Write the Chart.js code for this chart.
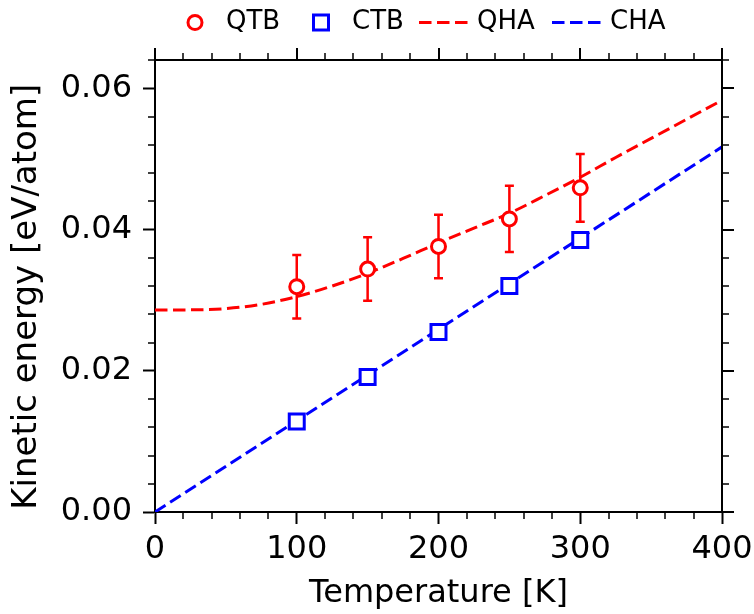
<!DOCTYPE html>
<html>
<head>
<meta charset="utf-8">
<script src="https://cdn.jsdelivr.net/npm/chart.js@4.4.1/dist/chart.umd.min.js"></script>
<style>
  html, body { margin: 0; padding: 0; background: #fff; }
</style>
</head>
<body>
<canvas id="myChart" width="754" height="614"></canvas>
<script>
// temperatures [K] and kinetic energies [eV/atom]
const qtbTemps = [100, 150, 200, 250, 300];
const qtbEnergy = [0.0319, 0.0344, 0.0376, 0.0415, 0.0459];
const qtbError = [0.0045, 0.0045, 0.0045, 0.0047, 0.0048];

const ctbTemps = [100, 150, 200, 250, 300];
const ctbEnergy = [0.0128, 0.0191, 0.0255, 0.0320, 0.0385];

const qhaTemps = [0, 25, 50, 75, 100, 125, 150, 175, 200, 225, 250, 275, 300, 325, 350, 375, 400];
const qhaEnergy = [0.0286, 0.02862, 0.0288, 0.0294, 0.0305, 0.0320, 0.0338, 0.0359, 0.0381,
  0.0402, 0.0423, 0.0448, 0.0474, 0.0502, 0.0529, 0.0556, 0.0583];

const chaTemps = [0, 400];
const chaEnergy = [0, 0.0517];

const xTicks = [0, 100, 200, 300, 400];
const yTicks = [0, 0.02, 0.04, 0.06];
const seriesLabels = ["QTB", "CTB", "QHA", "CHA"];

const FONT = "'DejaVu Sans', sans-serif";
const RED = "#ff0000";
const BLUE = "#0000ff";
const DASH = [12.5, 5.5];

const toPoints = (xs, ys) => xs.map((t, i) => ({ x: t, y: ys[i] }));

// minor tick positions (5 per major interval)
const xMinor = [];
for (let i = 0; i < xTicks.length - 1; i++) {
  const step = (xTicks[i + 1] - xTicks[i]) / 5;
  for (let k = 1; k < 5; k++) xMinor.push(xTicks[i] + k * step);
}
const yMinor = [];
for (let i = 0; i < yTicks.length - 1; i++) {
  const step = (yTicks[i + 1] - yTicks[i]) / 5;
  for (let k = 1; k < 5; k++) yMinor.push(yTicks[i] + k * step);
}
yMinor.push(0.064);

// error bars drawn after the lines but under the markers
const errorBars = {
  id: "errorBars",
  afterDatasetDraw(chart, args) {
    if (args.index !== 2) return;
    const { ctx, scales: { x, y } } = chart;
    ctx.save();
    ctx.strokeStyle = RED;
    ctx.lineWidth = 2.5;
    qtbTemps.forEach((t, i) => {
      const px = x.getPixelForValue(t);
      const lo = y.getPixelForValue(qtbEnergy[i] - qtbError[i]);
      const hi = y.getPixelForValue(qtbEnergy[i] + qtbError[i]);
      ctx.beginPath();
      ctx.moveTo(px, lo); ctx.lineTo(px, hi);
      ctx.moveTo(px - 4.5, lo); ctx.lineTo(px + 4.5, lo);
      ctx.moveTo(px - 4.5, hi); ctx.lineTo(px + 4.5, hi);
      ctx.stroke();
    });
    ctx.restore();
  }
};

// top/right spines, mirrored major ticks and minor ticks on every side
const frameTicks = {
  id: "frameTicks",
  afterDraw(chart) {
    const { ctx, chartArea: a, scales: { x, y } } = chart;
    ctx.save();
    ctx.strokeStyle = "#000";
    ctx.lineWidth = 2;
    ctx.beginPath();
    ctx.moveTo(a.left - 1, a.top); ctx.lineTo(a.right, a.top); ctx.lineTo(a.right, a.bottom + 1);
    ctx.stroke();

    const tick = (vals, scale, len, width, sides) => {
      ctx.lineWidth = width;
      ctx.beginPath();
      vals.forEach(v => {
        const p = Math.round(scale.getPixelForValue(v));
        sides.forEach(s => {
          if (s === "top") { ctx.moveTo(p, a.top); ctx.lineTo(p, a.top - len); }
          if (s === "bottom") { ctx.moveTo(p, a.bottom); ctx.lineTo(p, a.bottom + len); }
          if (s === "left") { ctx.moveTo(a.left, p); ctx.lineTo(a.left - len, p); }
          if (s === "right") { ctx.moveTo(a.right, p); ctx.lineTo(a.right + len, p); }
        });
      });
      ctx.stroke();
    };
    tick(xTicks, x, 12, 2, ["top"]);
    tick(yTicks, y, 12, 2, ["right"]);
    tick(xMinor, x, 7, 1.5, ["top", "bottom"]);
    tick(yMinor, y, 7, 1.5, ["left", "right"]);
    ctx.restore();
  }
};

// matplotlib-style legend row above the axes
const legendRow = {
  id: "legendRow",
  afterDraw(chart) {
    const { ctx } = chart;
    const starts = [168, 294, 419, 552];
    const handleLen = 54;
    const cy = 22.5;
    ctx.save();
    ctx.font = "26px " + FONT;
    ctx.textBaseline = "middle";
    chart.data.datasets.forEach((ds, i) => {
      const x0 = starts[i];
      const cx = x0 + handleLen / 2;
      ctx.strokeStyle = ds.borderColor;
      ctx.lineWidth = ds.borderWidth;
      if (ds.showLine === false) {
        ctx.fillStyle = "#fff";
        ctx.beginPath();
        if (ds.pointStyle === "circle") ctx.arc(cx, cy, 7, 0, Math.PI * 2);
        else ctx.rect(cx - 7.5, cy - 7.5, 15, 15);
        ctx.fill();
        ctx.stroke();
      } else {
        ctx.setLineDash(ds.borderDash);
        ctx.beginPath();
        ctx.moveTo(x0, cy); ctx.lineTo(x0 + handleLen, cy);
        ctx.stroke();
        ctx.setLineDash([]);
      }
      ctx.fillStyle = "#000";
      ctx.fillText(ds.label, x0 + handleLen + 4, cy);
    });
    ctx.restore();
  }
};

const chartData = {
  datasets: [
    {
      label: seriesLabels[0],
      data: toPoints(qtbTemps, qtbEnergy),
      showLine: false,
      pointStyle: "circle",
      pointRadius: 7,
      borderColor: RED,
      backgroundColor: "#fff",
      borderWidth: 3
    },
    {
      label: seriesLabels[1],
      data: toPoints(ctbTemps, ctbEnergy),
      showLine: false,
      pointStyle: "rect",
      pointRadius: 10.6,
      borderColor: BLUE,
      backgroundColor: "#fff",
      borderWidth: 3
    },
    {
      label: seriesLabels[2],
      data: toPoints(qhaTemps, qhaEnergy),
      borderColor: RED,
      borderWidth: 3,
      borderDash: DASH,
      pointRadius: 0,
      cubicInterpolationMode: "monotone",
      fill: false
    },
    {
      label: seriesLabels[3],
      data: toPoints(chaTemps, chaEnergy),
      borderColor: BLUE,
      borderWidth: 3,
      borderDash: DASH,
      pointRadius: 0,
      fill: false
    }
  ]
};

const chartOptions = {
  responsive: false,
  animation: false,
  events: [],
  layout: { padding: { top: 60, right: 32, left: 0, bottom: 0 } },
  plugins: { legend: { display: false }, tooltip: { enabled: false } },
  scales: {
    x: {
      type: "linear",
      min: 0,
      max: 400,
      afterBuildTicks: s => { s.ticks = xTicks.map(v => ({ value: v })); },
      afterFit: s => { s.height = 102; s.paddingLeft = 0; s.paddingRight = 0; },
      grid: { drawOnChartArea: false, tickLength: 12, tickWidth: 2, tickColor: "#000" },
      border: { display: true, color: "#000", width: 2 },
      ticks: {
        color: "#000",
        font: { family: FONT, size: 32 },
        padding: 6,
        maxRotation: 0,
        autoSkip: false,
        callback: v => String(v)
      },
      title: {
        display: true,
        text: "Temperature [K]",
        color: "#000",
        font: { family: FONT, size: 32 },
        padding: { top: 0, bottom: 1 }
      }
    },
    y: {
      type: "linear",
      min: 0,
      max: 0.064,
      afterBuildTicks: s => { s.ticks = yTicks.map(v => ({ value: v })); },
      afterFit: s => { s.width = 155; s.paddingTop = 0; s.paddingBottom = 0; },
      grid: { drawOnChartArea: false, tickLength: 12, tickWidth: 2, tickColor: "#000" },
      border: { display: true, color: "#000", width: 2 },
      ticks: {
        color: "#000",
        font: { family: FONT, size: 32 },
        padding: 11,
        autoSkip: false,
        callback: v => v.toFixed(2)
      },
      title: {
        display: true,
        // trailing spaces nudge the rotated label down to where the original sits
        text: "Kinetic energy [eV/atom]  ",
        color: "#000",
        font: { family: FONT, size: 34 },
        padding: { top: 7, bottom: 0 }
      }
    }
  }
};

const ctx = document.getElementById("myChart").getContext("2d");
new Chart(ctx, {
  type: "line",
  data: chartData,
  options: chartOptions,
  plugins: [errorBars, frameTicks, legendRow]
});
</script>
</body>
</html>
